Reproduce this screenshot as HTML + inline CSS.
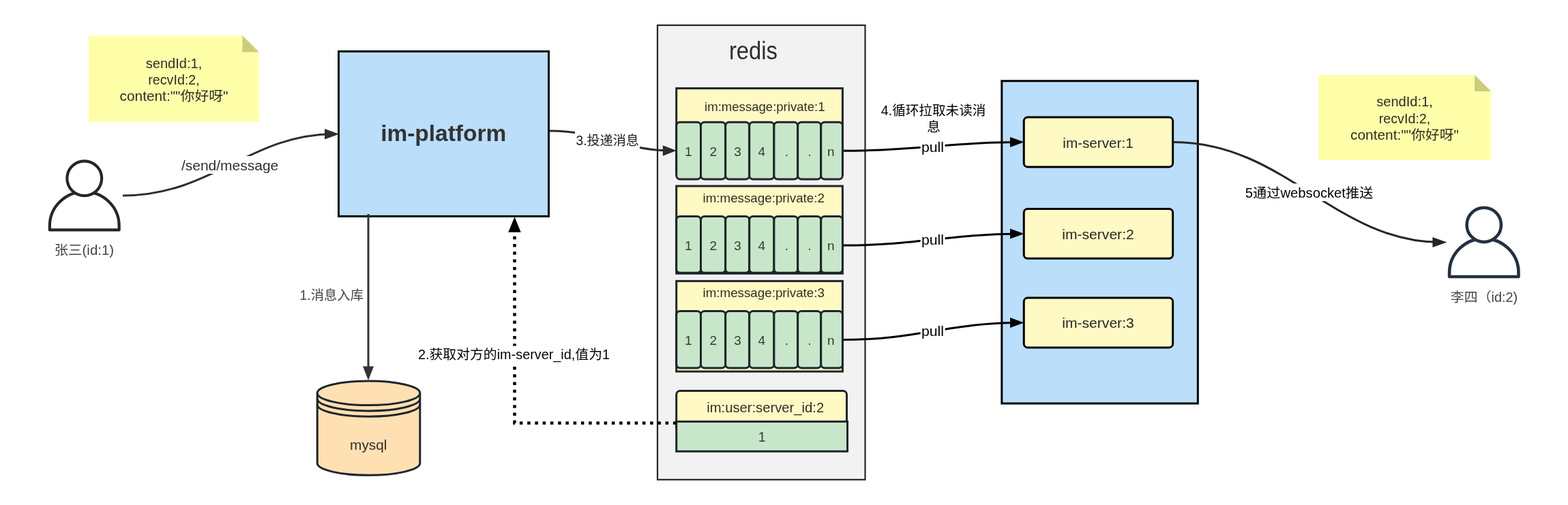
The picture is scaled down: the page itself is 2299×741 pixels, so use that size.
<!DOCTYPE html>
<html lang="zh-CN">
<head>
<meta charset="utf-8">
<title>IM message flow</title>
<style>
html,body{margin:0;padding:0;background:#fff;}
body{width:2299px;height:741px;overflow:hidden;}
svg{display:block;will-change:transform;font-family:'Liberation Sans', 'Noto Sans CJK SC', sans-serif;}
text{white-space:pre;}
</style>
</head>
<body>
<svg width="2299" height="741" viewBox="0 0 2299 741">
<rect x="0" y="0" width="2299" height="741" fill="#ffffff"/>

<g id="notes">
<path d="M130,52.1 L355.3,52.1 L379.7,76.5 L379.7,179 L130,179 Z" fill="#ffffaa"/>
<path d="M355.3,52.1 L379.7,76.5 L355.3,76.5 Z" fill="#cccc7a"/>
<text x="255" y="100" font-size="19.5" fill="#2d2d24" font-weight="normal" text-anchor="middle" textLength="82.4" lengthAdjust="spacingAndGlyphs">sendId:1,</text>
<text x="255" y="124" font-size="19.5" fill="#2d2d24" font-weight="normal" text-anchor="middle" textLength="75.4" lengthAdjust="spacingAndGlyphs">recvId:2,</text>
<text x="255" y="148" font-size="19.5" fill="#2d2d24" font-weight="normal" text-anchor="middle" textLength="159" lengthAdjust="spacingAndGlyphs">content:&quot;&quot;你好呀&quot;</text>
<path d="M1932.8,110 L2162.1,110 L2186.1,134 L2186.1,235 L1932.8,235 Z" fill="#ffffaa"/>
<path d="M2162.1,110 L2186.1,134 L2162.1,134 Z" fill="#cccc7a"/>
<text x="2059.5" y="156" font-size="19.5" fill="#2d2d24" font-weight="normal" text-anchor="middle" textLength="82.6" lengthAdjust="spacingAndGlyphs">sendId:1,</text>
<text x="2059.5" y="181" font-size="19.5" fill="#2d2d24" font-weight="normal" text-anchor="middle" textLength="75.7" lengthAdjust="spacingAndGlyphs">recvId:2,</text>
<text x="2059.5" y="205" font-size="19.5" fill="#2d2d24" font-weight="normal" text-anchor="middle" textLength="158.8" lengthAdjust="spacingAndGlyphs">content:&quot;&quot;你好呀&quot;</text>
</g>
<g id="users">
<path d="M72.85,337.4 L72.85,331.4 A50.9,50.0 0 0 1 174.65,331.4 L174.65,337.4 Z" fill="#fff" stroke="#262626" stroke-width="4.2" stroke-linejoin="round"/>
<circle cx="123.75" cy="261.8" r="25.4" fill="#fff" stroke="#262626" stroke-width="4.2"/>
<text x="123.4" y="374" font-size="19.5" fill="#444" font-weight="normal" text-anchor="middle" textLength="87.4" lengthAdjust="spacingAndGlyphs">张三(id:1)</text>
<path d="M2125.1,406 L2125.1,400 A50.7,50.0 0 0 1 2226.5,400 L2226.5,406 Z" fill="#fff" stroke="#253041" stroke-width="4.6" stroke-linejoin="round"/>
<circle cx="2175.8" cy="329.9" r="25.2" fill="#fff" stroke="#253041" stroke-width="4.6"/>
<text x="2176" y="443" font-size="19.5" fill="#444" font-weight="normal" text-anchor="middle" textLength="98.5" lengthAdjust="spacingAndGlyphs">李四（id:2)</text>
</g>
<g id="im-platform">
<rect x="496.5" y="75.4" width="308" height="242" fill="#bbdefb" stroke="#000" stroke-width="3"/>
<text x="650.2" y="207" font-size="33.5" fill="#333" font-weight="bold" text-anchor="middle" textLength="184" lengthAdjust="spacingAndGlyphs">im-platform</text>
</g>
<g id="edge-send-message">
<path d="M180,287 C310.09,287 367.21,196.7 489.3,196.7" fill="none" stroke="#2e2e2e" stroke-width="3"/>
<path d="M497.30,196.70 L476.00,204.45 L476.00,188.95 Z" fill="#2e2e2e"/>
<rect x="265" y="229" width="145" height="26" fill="#fff"/>
<text x="337.1" y="250" font-size="19.5" fill="#2e2e2e" font-weight="normal" text-anchor="middle" textLength="142.3" lengthAdjust="spacingAndGlyphs">/send/message</text>
</g>
<g id="edge-save-message">
<path d="M540,314 L540,540" stroke="#333" stroke-width="3" fill="none"/>
<path d="M540.00,558.00 L532.00,537.50 L548.00,537.50 Z" fill="#333"/>
<text x="486.3" y="440" font-size="19.5" fill="#444" font-weight="normal" text-anchor="middle" textLength="93.5" lengthAdjust="spacingAndGlyphs">1.消息入库</text>
</g>
<g id="mysql">
<path d="M465.2,576.8 A75.3,17.8 0 0 1 615.8,576.8 L615.8,679.5 A75.3,17.8 0 0 1 465.2,679.5 Z" fill="#ffe0b2" stroke="#1e252b" stroke-width="3"/>
<path d="M465.2,576.8 A75.3,17.8 0 0 0 615.8,576.8" fill="none" stroke="#1e252b" stroke-width="3"/>
<path d="M465.2,585.1 A75.3,17.8 0 0 0 615.8,585.1" fill="none" stroke="#1e252b" stroke-width="3"/>
<path d="M465.2,593.4 A75.3,17.8 0 0 0 615.8,593.4" fill="none" stroke="#1e252b" stroke-width="3"/>
<text x="540.2" y="660" font-size="19.5" fill="#302c24" font-weight="normal" text-anchor="middle" textLength="54.2" lengthAdjust="spacingAndGlyphs">mysql</text>
</g>
<g id="redis">
<rect x="964" y="37" width="304.5" height="666.8" fill="#f2f2f2" stroke="#1e252b" stroke-width="2.2"/>
<text x="1104.4" y="87" font-size="36" fill="#2e2e2e" font-weight="normal" text-anchor="middle" textLength="71" lengthAdjust="spacingAndGlyphs">redis</text>
</g>
<g id="redis-queues">
<rect x="991.7" y="129.6" width="243.7" height="125.4" fill="#fff9c4" stroke="#1e252b" stroke-width="3"/>
<rect x="991.7" y="179.3" width="35.8" height="83.7" rx="5.5" fill="#c8e6c9" stroke="#1e252b" stroke-width="3"/>
<rect x="1027.5" y="179.3" width="36.2" height="83.7" rx="5.5" fill="#c8e6c9" stroke="#1e252b" stroke-width="3"/>
<rect x="1063.7" y="179.3" width="35.0" height="83.7" rx="5.5" fill="#c8e6c9" stroke="#1e252b" stroke-width="3"/>
<rect x="1098.7" y="179.3" width="36.2" height="83.7" rx="5.5" fill="#c8e6c9" stroke="#1e252b" stroke-width="3"/>
<rect x="1134.9" y="179.3" width="34.8" height="83.7" rx="5.5" fill="#c8e6c9" stroke="#1e252b" stroke-width="3"/>
<rect x="1169.7" y="179.3" width="34.0" height="83.7" rx="5.5" fill="#c8e6c9" stroke="#1e252b" stroke-width="3"/>
<rect x="1203.7" y="179.3" width="31.7" height="83.7" rx="5.5" fill="#c8e6c9" stroke="#1e252b" stroke-width="3"/>
<text x="1009.2" y="229" font-size="19" fill="#2f3d33" font-weight="normal" text-anchor="middle">1</text>
<text x="1045.7" y="229" font-size="19" fill="#2f3d33" font-weight="normal" text-anchor="middle">2</text>
<text x="1081.5" y="229" font-size="19" fill="#2f3d33" font-weight="normal" text-anchor="middle">3</text>
<text x="1116.8" y="229" font-size="19" fill="#2f3d33" font-weight="normal" text-anchor="middle">4</text>
<text x="1153.3" y="229" font-size="19" fill="#2f3d33" font-weight="normal" text-anchor="middle">.</text>
<text x="1187.0" y="229" font-size="19" fill="#2f3d33" font-weight="normal" text-anchor="middle">.</text>
<text x="1218.25" y="229" font-size="19" fill="#2f3d33" font-weight="normal" text-anchor="middle">n</text>
<text x="1121.3" y="163" font-size="18.5" fill="#2e2e26" font-weight="normal" text-anchor="middle" textLength="176.4" lengthAdjust="spacingAndGlyphs">im:message:private:1</text>
<rect x="991.7" y="273.0" width="243.7" height="128.3" fill="#fff9c4" stroke="#1e252b" stroke-width="3"/>
<rect x="991.7" y="394.2" width="243.7" height="7.1" fill="#1e252b"/>
<rect x="991.7" y="317.5" width="35.8" height="82.7" rx="5.5" fill="#c8e6c9" stroke="#1e252b" stroke-width="3"/>
<rect x="1027.5" y="317.5" width="36.2" height="82.7" rx="5.5" fill="#c8e6c9" stroke="#1e252b" stroke-width="3"/>
<rect x="1063.7" y="317.5" width="35.0" height="82.7" rx="5.5" fill="#c8e6c9" stroke="#1e252b" stroke-width="3"/>
<rect x="1098.7" y="317.5" width="36.2" height="82.7" rx="5.5" fill="#c8e6c9" stroke="#1e252b" stroke-width="3"/>
<rect x="1134.9" y="317.5" width="34.8" height="82.7" rx="5.5" fill="#c8e6c9" stroke="#1e252b" stroke-width="3"/>
<rect x="1169.7" y="317.5" width="34.0" height="82.7" rx="5.5" fill="#c8e6c9" stroke="#1e252b" stroke-width="3"/>
<rect x="1203.7" y="317.5" width="31.7" height="82.7" rx="5.5" fill="#c8e6c9" stroke="#1e252b" stroke-width="3"/>
<text x="1009.2" y="367" font-size="19" fill="#2f3d33" font-weight="normal" text-anchor="middle">1</text>
<text x="1045.7" y="367" font-size="19" fill="#2f3d33" font-weight="normal" text-anchor="middle">2</text>
<text x="1081.5" y="367" font-size="19" fill="#2f3d33" font-weight="normal" text-anchor="middle">3</text>
<text x="1116.8" y="367" font-size="19" fill="#2f3d33" font-weight="normal" text-anchor="middle">4</text>
<text x="1153.3" y="367" font-size="19" fill="#2f3d33" font-weight="normal" text-anchor="middle">.</text>
<text x="1187.0" y="367" font-size="19" fill="#2f3d33" font-weight="normal" text-anchor="middle">.</text>
<text x="1218.25" y="367" font-size="19" fill="#2f3d33" font-weight="normal" text-anchor="middle">n</text>
<text x="1119.7" y="297" font-size="18.5" fill="#2e2e26" font-weight="normal" text-anchor="middle" textLength="178.4" lengthAdjust="spacingAndGlyphs">im:message:private:2</text>
<rect x="991.7" y="412.4" width="243.7" height="132.7" fill="#fff9c4" stroke="#1e252b" stroke-width="3"/>
<rect x="991.7" y="456.4" width="35.8" height="83.6" rx="5.5" fill="#c8e6c9" stroke="#1e252b" stroke-width="3"/>
<rect x="1027.5" y="456.4" width="36.2" height="83.6" rx="5.5" fill="#c8e6c9" stroke="#1e252b" stroke-width="3"/>
<rect x="1063.7" y="456.4" width="35.0" height="83.6" rx="5.5" fill="#c8e6c9" stroke="#1e252b" stroke-width="3"/>
<rect x="1098.7" y="456.4" width="36.2" height="83.6" rx="5.5" fill="#c8e6c9" stroke="#1e252b" stroke-width="3"/>
<rect x="1134.9" y="456.4" width="34.8" height="83.6" rx="5.5" fill="#c8e6c9" stroke="#1e252b" stroke-width="3"/>
<rect x="1169.7" y="456.4" width="34.0" height="83.6" rx="5.5" fill="#c8e6c9" stroke="#1e252b" stroke-width="3"/>
<rect x="1203.7" y="456.4" width="31.7" height="83.6" rx="5.5" fill="#c8e6c9" stroke="#1e252b" stroke-width="3"/>
<text x="1009.2" y="506" font-size="19" fill="#2f3d33" font-weight="normal" text-anchor="middle">1</text>
<text x="1045.7" y="506" font-size="19" fill="#2f3d33" font-weight="normal" text-anchor="middle">2</text>
<text x="1081.5" y="506" font-size="19" fill="#2f3d33" font-weight="normal" text-anchor="middle">3</text>
<text x="1116.8" y="506" font-size="19" fill="#2f3d33" font-weight="normal" text-anchor="middle">4</text>
<text x="1153.3" y="506" font-size="19" fill="#2f3d33" font-weight="normal" text-anchor="middle">.</text>
<text x="1187.0" y="506" font-size="19" fill="#2f3d33" font-weight="normal" text-anchor="middle">.</text>
<text x="1218.25" y="506" font-size="19" fill="#2f3d33" font-weight="normal" text-anchor="middle">n</text>
<text x="1119.7" y="436" font-size="18.5" fill="#2e2e26" font-weight="normal" text-anchor="middle" textLength="178.4" lengthAdjust="spacingAndGlyphs">im:message:private:3</text>
</g>
<g id="redis-user-server">
<rect x="991.7" y="573.5" width="249.8" height="60" rx="5.5" fill="#fff9c4" stroke="#1e252b" stroke-width="3"/>
<rect x="991.7" y="618.6" width="250.8" height="43.7" fill="#c8e6c9" stroke="#1e252b" stroke-width="3"/>
<text x="1122.2" y="605" font-size="21" fill="#2e2e26" font-weight="normal" text-anchor="middle" textLength="172" lengthAdjust="spacingAndGlyphs">im:user:server_id:2</text>
<text x="1117.1" y="648" font-size="19.5" fill="#2f3d33" font-weight="normal" text-anchor="middle">1</text>
</g>
<g id="edge-get-server-id">
<path d="M991.7,620.7 L754.5,620.7 L754.5,338" fill="none" stroke="#000" stroke-width="4.5" stroke-dasharray="4.5 6.75" stroke-dashoffset="-0.3"/>
<path d="M754.50,318.20 L763.75,340.70 L745.25,340.70 Z" fill="#000"/>
<rect x="608" y="507.6" width="292" height="27.2" fill="#fff"/>
<text x="753.5" y="527" font-size="19.5" fill="#000" font-weight="normal" text-anchor="middle" textLength="281" lengthAdjust="spacingAndGlyphs">2.获取对方的im-server_id,值为1</text>
</g>
<g id="edge-deliver-message">
<path d="M805.5,192 C881.88,192 915.42,221 983.8,221" fill="none" stroke="#2b2b2b" stroke-width="3"/>
<path d="M991.80,221.00 L971.80,228.75 L971.80,213.25 Z" fill="#2b2b2b"/>
<rect x="843" y="191.5" width="95" height="27.5" fill="#fff"/>
<text x="890.7" y="213" font-size="19.5" fill="#222" font-weight="normal" text-anchor="middle" textLength="92.4" lengthAdjust="spacingAndGlyphs">3.投递消息</text>
</g>
<g id="im-servers">
<rect x="1468.8" y="118.8" width="287.5" height="473.2" fill="#bbdefb" stroke="#000" stroke-width="3"/>
<rect x="1501.2" y="172.1" width="218.4" height="72.8" rx="5.5" fill="#fff9c4" stroke="#000" stroke-width="3"/>
<text x="1610" y="217" font-size="19.5" fill="#262626" font-weight="normal" text-anchor="middle" textLength="103.3" lengthAdjust="spacingAndGlyphs">im-server:1</text>
<rect x="1501.2" y="306.4" width="218.4" height="72.8" rx="5.5" fill="#fff9c4" stroke="#000" stroke-width="3"/>
<text x="1610" y="351" font-size="19.5" fill="#262626" font-weight="normal" text-anchor="middle" textLength="105.5" lengthAdjust="spacingAndGlyphs">im-server:2</text>
<rect x="1501.2" y="437.1" width="218.4" height="72.8" rx="5.5" fill="#fff9c4" stroke="#000" stroke-width="3"/>
<text x="1610" y="481" font-size="19.5" fill="#262626" font-weight="normal" text-anchor="middle" textLength="105.5" lengthAdjust="spacingAndGlyphs">im-server:3</text>
</g>
<g id="edges-pull">
<path d="M1237,221.3 C1345.44,221.3 1393.06,208.6 1493.5,208.6" fill="none" stroke="#000" stroke-width="3"/>
<path d="M1501.50,208.60 L1481.00,216.10 L1481.00,201.10 Z" fill="#000"/>
<rect x="1349.6" y="206.1" width="36" height="24" fill="#fff"/>
<text x="1367.4" y="223" font-size="19.5" fill="#000" font-weight="normal" text-anchor="middle" textLength="33" lengthAdjust="spacingAndGlyphs">pull</text>
<path d="M1237,360.0 C1345.44,360.0 1393.06,343.1 1493.5,343.1" fill="none" stroke="#000" stroke-width="3"/>
<path d="M1501.50,343.10 L1481.00,350.60 L1481.00,335.60 Z" fill="#000"/>
<rect x="1349.6" y="342.1" width="36" height="24" fill="#fff"/>
<text x="1367.4" y="359" font-size="19.5" fill="#000" font-weight="normal" text-anchor="middle" textLength="33" lengthAdjust="spacingAndGlyphs">pull</text>
<path d="M1237,498.5 C1345.44,498.5 1393.06,473.4 1493.5,473.4" fill="none" stroke="#000" stroke-width="3"/>
<path d="M1501.50,473.40 L1481.00,480.90 L1481.00,465.90 Z" fill="#000"/>
<rect x="1349.6" y="475.9" width="36" height="24" fill="#fff"/>
<text x="1367.4" y="493" font-size="19.5" fill="#000" font-weight="normal" text-anchor="middle" textLength="33" lengthAdjust="spacingAndGlyphs">pull</text>
<text x="1368.6" y="169" font-size="19.5" fill="#000" font-weight="normal" text-anchor="middle" textLength="153.5" lengthAdjust="spacingAndGlyphs">4.循环拉取未读消</text>
<text x="1369" y="193" font-size="19.5" fill="#000" font-weight="normal" text-anchor="middle">息</text>
</g>
<g id="edge-websocket-push">
<path d="M1720,208.5 C1884.57,208.5 1956.83,355.6 2113.4,355.6" fill="none" stroke="#262626" stroke-width="3"/>
<path d="M2121.40,355.60 L2100.40,363.10 L2100.40,348.10 Z" fill="#262626"/>
<rect x="1824" y="269.4" width="191" height="25.6" fill="#fff"/>
<text x="1919.6" y="290" font-size="19.5" fill="#000" font-weight="normal" text-anchor="middle" textLength="187.5" lengthAdjust="spacingAndGlyphs">5通过websocket推送</text>
</g>
</svg>
</body>
</html>
